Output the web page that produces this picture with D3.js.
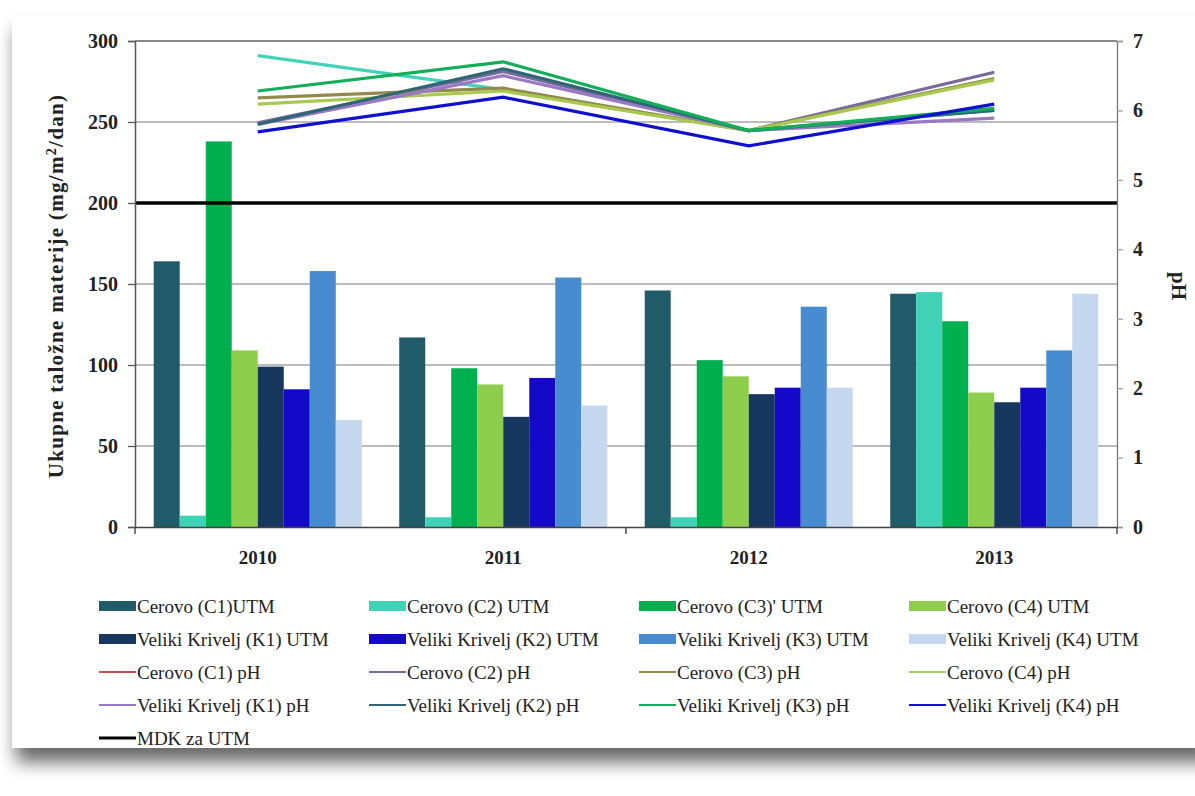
<!DOCTYPE html>
<html>
<head>
<meta charset="utf-8">
<script src="https://cdn.jsdelivr.net/npm/d3@7"></script>
<style>
  html, body { margin: 0; padding: 0; background: #ffffff; }
  svg { display: block; }
</style>
</head>
<body>
<svg id="chart" width="1195" height="796"></svg>
<script>
// ---------- DATA ----------
const years = ["2010", "2011", "2012", "2013"];

const barSeries = [
  "Cerovo (C1)UTM", "Cerovo (C2) UTM", "Cerovo (C3)' UTM", "Cerovo (C4) UTM",
  "Veliki Krivelj (K1) UTM", "Veliki Krivelj (K2) UTM", "Veliki Krivelj (K3) UTM", "Veliki Krivelj (K4) UTM"
];
const barColors = ["#215a68", "#3fd2b6", "#00b04f", "#8fce4c", "#17375e", "#1409c8", "#478bd1", "#c5d8ef"];

// UTM values (mg/m2/dan), one array per station, by year
const utmC1 = [164, 117, 146, 144];
const utmC2 = [7, 6, 6, 145];
const utmC3 = [238, 98, 103, 127];
const utmC4 = [109, 88, 93, 83];
const utmK1 = [99, 68, 82, 77];
const utmK2 = [85, 92, 86, 86];
const utmK3 = [158, 154, 136, 109];
const utmK4 = [66, 75, 86, 144];
const utmValues = [utmC1, utmC2, utmC3, utmC4, utmK1, utmK2, utmK3, utmK4];

const lineSeries = [
  "Cerovo (C1) pH", "Cerovo (C2) pH", "Cerovo (C3) pH", "Cerovo (C4) pH",
  "Veliki Krivelj (K1) pH", "Veliki Krivelj (K2) pH", "Veliki Krivelj (K3) pH", "Veliki Krivelj (K4) pH"
];
const lineColors = ["#44d2b8", "#7a6a9c", "#93894f", "#a6c94e", "#9a78c4", "#2f6676", "#14ad5a", "#1010cc"];
const lineLegendColors = ["#c0504d", "#7a6a9c", "#93894f", "#a6d05a", "#9a78c4", "#2f6676", "#14ad5a", "#1010cc"];

const phC1 = [6.79, 6.30, 5.71, 6.00];
const phC2 = [5.82, 6.56, 5.71, 6.55];
const phC3 = [6.18, 6.32, 5.71, 6.46];
const phC4 = [6.09, 6.28, 5.71, 6.44];
const phK1 = [5.80, 6.50, 5.71, 5.89];
const phK2 = [5.80, 6.60, 5.71, 6.00];
const phK3 = [6.28, 6.70, 5.71, 6.03];
const phK4 = [5.69, 6.19, 5.49, 6.09];
const phValues = [phC1, phC2, phC3, phC4, phK1, phK2, phK3, phK4];

const mdkLabel = "MDK za UTM";
const mdkValue = 200;

const leftTicks = [0, 50, 100, 150, 200, 250, 300];
const rightTicks = [0, 1, 2, 3, 4, 5, 6, 7];
const leftTitle = "Ukupne taložne materije (mg/m";
const leftTitleSup = "2";
const leftTitleEnd = "/dan)";
const rightTitle = "pH";

// ---------- LAYOUT ----------
const svg = d3.select("#chart");
const W = 1195, H = 796;
const plot = { left: 135, right: 1117, top: 41, bottom: 527 };
const serif = "'Liberation Serif', 'Times New Roman', serif";

// card with shadow
const defs = svg.append("defs");
const f = defs.append("filter").attr("id", "shadow").attr("x", "-5%").attr("y", "-5%").attr("width", "115%").attr("height", "120%");
f.append("feGaussianBlur").attr("in", "SourceAlpha").attr("stdDeviation", 9);
f.append("feOffset").attr("dx", 4).attr("dy", 14).attr("result", "ob");
f.append("feComponentTransfer").append("feFuncA").attr("type", "linear").attr("slope", 0.6);
const m = f.append("feMerge");
m.append("feMergeNode");
m.append("feMergeNode").attr("in", "SourceGraphic");

svg.append("rect").attr("x", 0).attr("y", 0).attr("width", W).attr("height", H).attr("fill", "#ffffff");
svg.append("rect").attr("x", 12).attr("y", 16).attr("width", 1200).attr("height", 732)
  .attr("fill", "#ffffff").attr("filter", "url(#shadow)");

// scales
const x0 = d3.scaleBand().domain(years).range([plot.left, plot.right]).padding(0);
const x1 = d3.scaleBand().domain(d3.range(barSeries.length)).range([0, x0.bandwidth()])
  .paddingInner(0).paddingOuter(0.72);
const yL = d3.scaleLinear().domain([0, 300]).range([plot.bottom, plot.top]);
const yR = d3.scaleLinear().domain([0, 7]).range([plot.bottom, plot.top]);

const g = svg.append("g");

// gridlines
g.append("g").selectAll("line").data(leftTicks.filter(d => d > 0)).join("line")
  .attr("x1", plot.left).attr("x2", plot.right)
  .attr("y1", d => yL(d)).attr("y2", d => yL(d))
  .attr("stroke", "#a6a6a6").attr("stroke-width", 1.3);

// bars
years.forEach((yr, yi) => {
  g.append("g").selectAll("rect").data(utmValues.map((arr, si) => ({ si, v: arr[yi] }))).join("rect")
    .attr("x", d => x0(yr) + x1(d.si))
    .attr("y", d => yL(d.v))
    .attr("width", x1.bandwidth())
    .attr("height", d => yL(0) - yL(d.v))
    .attr("fill", d => barColors[d.si]);
});

// MDK line
g.append("line")
  .attr("x1", plot.left).attr("x2", plot.right)
  .attr("y1", yL(mdkValue)).attr("y2", yL(mdkValue))
  .attr("stroke", "#000").attr("stroke-width", 3.5);

// pH lines
const lineGen = d3.line().x((d, i) => x0(years[i]) + x0.bandwidth() / 2).y(d => yR(d));
phValues.forEach((arr, si) => {
  g.append("path").datum(arr).attr("d", lineGen)
    .attr("fill", "none").attr("stroke", lineColors[si]).attr("stroke-width", 3.2)
    .attr("stroke-linejoin", "miter");
});

// axes
const axL = g.append("g").attr("transform", `translate(${plot.left},0)`)
  .call(d3.axisLeft(yL).tickValues(leftTicks).tickSize(7).tickPadding(10).tickFormat(d3.format("d")));
axL.select(".domain").attr("stroke", "#555").attr("stroke-width", 1.5);
axL.selectAll(".tick line").attr("stroke", "#555").attr("stroke-width", 1.3);
axL.selectAll("text").attr("font-family", serif).attr("font-size", 20).attr("font-weight", "bold").attr("fill", "#222");

const axR = g.append("g").attr("transform", `translate(${plot.right},0)`)
  .call(d3.axisRight(yR).tickValues(rightTicks).tickSize(6).tickPadding(10).tickFormat(d3.format("d")));
axR.select(".domain").attr("stroke", "#777").attr("stroke-width", 1.3);
axR.selectAll(".tick line").attr("stroke", "#999").attr("stroke-width", 1.2);
axR.selectAll("text").attr("font-family", serif).attr("font-size", 20).attr("font-weight", "bold").attr("fill", "#222");

// top frame line
g.append("line").attr("x1", plot.left).attr("x2", plot.right).attr("y1", plot.top).attr("y2", plot.top)
  .attr("stroke", "#777").attr("stroke-width", 1.3);

// bottom axis
const axB = g.append("g").attr("transform", `translate(0,${plot.bottom})`)
  .call(d3.axisBottom(x0).tickSize(0).tickPadding(24));
axB.select(".domain").attr("stroke", "#444").attr("stroke-width", 1.5);
axB.selectAll("text").attr("font-family", serif).attr("font-size", 19).attr("font-weight", "bold").attr("fill", "#222");
// tick marks every second category boundary
g.append("g").selectAll("line").data([0, 2, 4]).join("line")
  .attr("x1", d => plot.left + d * x0.bandwidth()).attr("x2", d => plot.left + d * x0.bandwidth())
  .attr("y1", plot.bottom).attr("y2", plot.bottom + 7)
  .attr("stroke", "#444").attr("stroke-width", 1.4);

// axis titles
const tl = svg.append("text")
  .attr("transform", `translate(63,${(plot.top + plot.bottom) / 2 + 2}) rotate(-90)`)
  .attr("text-anchor", "middle")
  .attr("font-family", serif).attr("font-size", 21).attr("font-weight", "bold").attr("fill", "#222")
  .attr("letter-spacing", 1.3);
tl.append("tspan").text(leftTitle);
tl.append("tspan").attr("baseline-shift", "super").attr("font-size", 14).text(leftTitleSup);
tl.append("tspan").text(leftTitleEnd);

svg.append("text")
  .attr("transform", `translate(1172,${(plot.top + plot.bottom) / 2 + 2}) rotate(90)`)
  .attr("text-anchor", "middle")
  .attr("font-family", serif).attr("font-size", 21).attr("font-weight", "bold").attr("fill", "#222")
  .text(rightTitle);

// legend
const legendItems = [];
barSeries.forEach((n, i) => legendItems.push({ name: n, color: barColors[i], type: "bar" }));
lineSeries.forEach((n, i) => legendItems.push({ name: n, color: lineLegendColors[i], type: "line" }));
legendItems.push({ name: mdkLabel, color: "#000", type: "line" });

const colX = [99, 369, 639, 909];
const rowY = [606, 639, 672, 705, 738];
const lg = svg.append("g");
legendItems.forEach((it, i) => {
  const cx = colX[i % 4], cy = rowY[Math.floor(i / 4)];
  if (it.type === "bar") {
    lg.append("rect").attr("x", cx).attr("y", cy - 5).attr("width", 37).attr("height", 10).attr("fill", it.color);
  } else {
    lg.append("line").attr("x1", cx).attr("x2", cx + 37).attr("y1", cy).attr("y2", cy)
      .attr("stroke", it.color).attr("stroke-width", it.name === mdkLabel ? 3 : 2);
  }
  lg.append("text").attr("x", cx + 38).attr("y", cy).attr("dy", "0.35em")
    .attr("font-family", serif).attr("font-size", 19).attr("fill", "#222")
    .text(it.name);
});
</script>
</body>
</html>
